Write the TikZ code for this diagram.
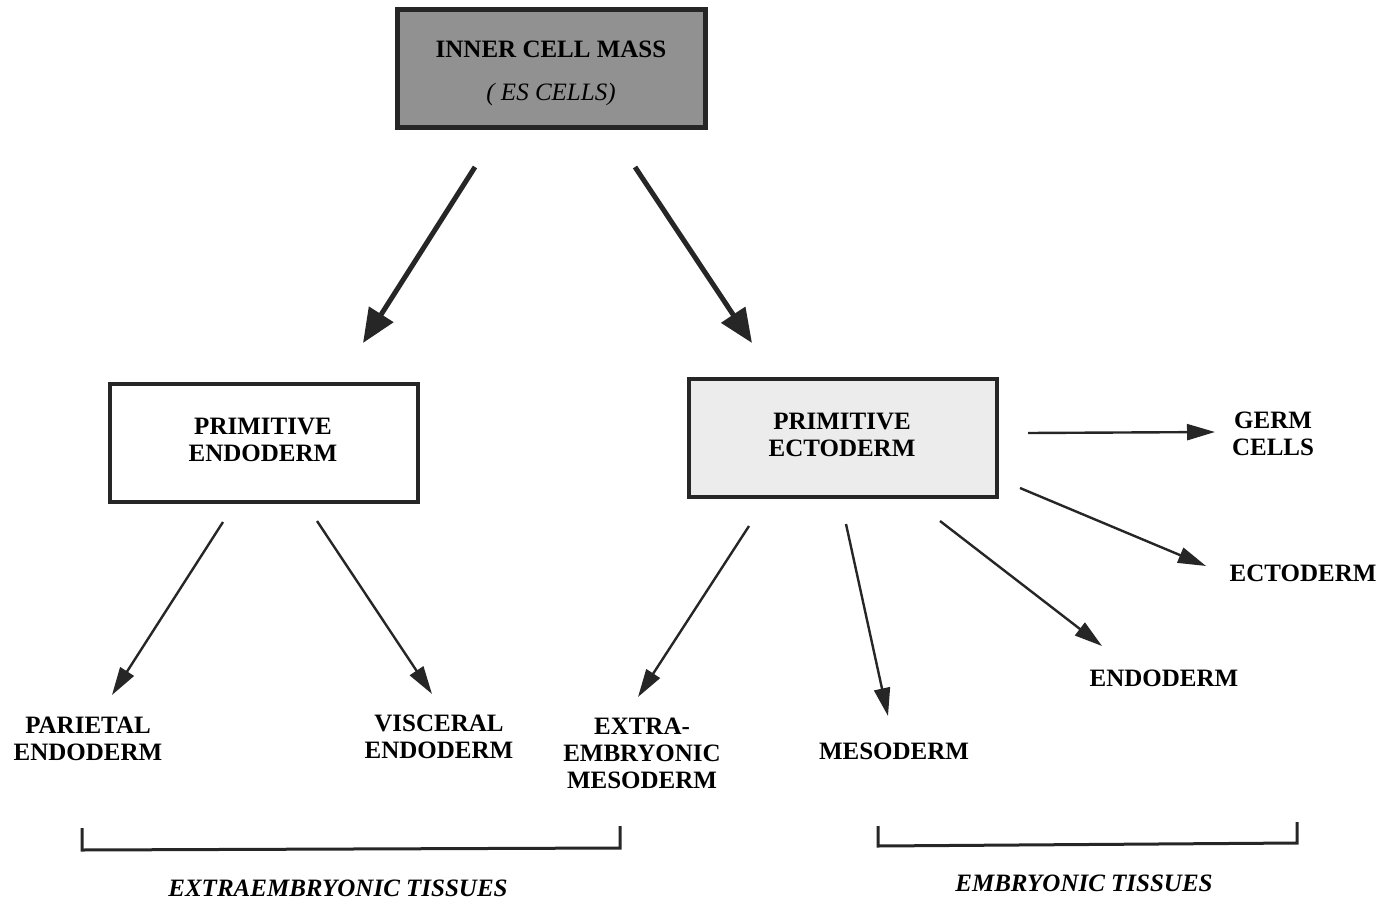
\documentclass[tikz,border=0pt]{standalone}
\usepackage{fontspec}
\setmainfont{Liberation Serif}
\usetikzlibrary{arrows.meta}
\definecolor{icmgray}{RGB}{145,145,145}
\definecolor{ectogray}{RGB}{236,236,236}
\tikzset{
  cellbox/.style={draw=black!85, line width=2pt, minimum width=154pt, minimum height=59pt,
    align=center, font=\fontsize{12.5}{13.5}\selectfont\bfseries},
  tissue/.style={align=center, font=\fontsize{12.5}{13.5}\selectfont\bfseries, inner sep=0pt},
  group/.style={font=\fontsize{12.5}{13.5}\selectfont\bfseries\itshape, inner sep=0pt},
  bigarrow/.style={line width=2.5pt, black!85, -{Triangle[length=17pt,width=14pt]}},
  thinarrow/.style={line width=1.2pt, black!85, -{Triangle[length=14pt,width=8pt]}},
  bracket/.style={line width=1.5pt, black!85}
}
\begin{document}
\begin{tikzpicture}[x=0.5pt,y=-0.5pt]
      \useasboundingbox (0,0) rectangle (1386,904);
      \node[cellbox, fill=icmgray, line width=2.5pt] (icm) at (551.5,69) {};
      \node[tissue] (icmtext) at (551,73)
        {INNER CELL MASS\\[8pt]{\mdseries\itshape ( ES CELLS)}};
      \node[cellbox, fill=white] (pendo) at (264,442.5) {};
      \node[tissue] (pendotext) at (263,440) {PRIMITIVE\\ENDODERM};
      \node[cellbox, fill=ectogray] (pecto) at (842.5,437.5) {};
      \node[tissue] (pectotext) at (842,435) {PRIMITIVE\\ECTODERM};
      \node[tissue] (germ) at (1273,434) {GERM\\CELLS};
      \node[tissue] (ecto) at (1303,573) {ECTODERM};
      \node[tissue] (endo) at (1164,678) {ENDODERM};
      \node[tissue] (meso) at (894,751) {MESODERM};
      \node[tissue] (xmeso) at (642,753) {EXTRA-\\EMBRYONIC\\MESODERM};
      \node[tissue] (parie) at (88,739) {PARIETAL\\ENDODERM};
      \node[tissue] (visce) at (439,737) {VISCERAL\\ENDODERM};
      \node[group] (extra) at (338,888) {EXTRAEMBRYONIC TISSUES};
      \node[group] (embry) at (1084,883) {EMBRYONIC TISSUES};
      \coordinate (a1) at (475,167);
      \coordinate (b1) at (363,343);
      \coordinate (a2) at (635,167);
      \coordinate (b2) at (752,343);
      \coordinate (a3) at (223,522);
      \coordinate (b3) at (112,695);
      \coordinate (a4) at (317,521);
      \coordinate (b4) at (432,694);
      \coordinate (a5) at (749,526);
      \coordinate (b5) at (638,697);
      \coordinate (a6) at (846,524);
      \coordinate (b6) at (888,716);
      \coordinate (a7) at (940,521);
      \coordinate (b7) at (1102,646);
      \coordinate (a8) at (1020,488);
      \coordinate (b8) at (1206,566);
      \coordinate (a9) at (1028,433);
      \coordinate (b9) at (1215,432);
      \begin{scope}[bigarrow]
        \draw (a1) to (b1);
        \draw (a2) to (b2);
      \end{scope}
      \begin{scope}[thinarrow]
        \draw (a3) to (b3);
        \draw (a4) to (b4);
        \draw (a5) to (b5);
        \draw (a6) to (b6);
        \draw (a7) to (b7);
        \draw (a8) to (b8);
        \draw (a9) to (b9);
      \end{scope}
      \draw[bracket] (82,828) -- (82,850) -- (620,848) -- (620,826);
      \draw[bracket] (878,826) -- (878,846) -- (1297,843) -- (1297,822);
    \end{tikzpicture}
\end{document}
